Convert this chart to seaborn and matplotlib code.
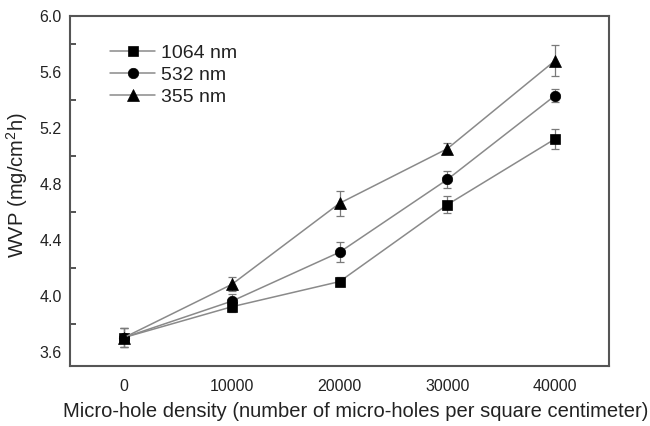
import numpy as np
import pandas as pd
import matplotlib
matplotlib.use("Agg")
import matplotlib.pyplot as plt
from matplotlib.ticker import MultipleLocator
import seaborn as sns

density = [0, 10000, 20000, 30000, 40000]
series_names = ["1064 nm", "532 nm", "355 nm"]
wvp_1064 = [3.70, 3.92, 4.10, 4.65, 5.12]
wvp_532 = [3.70, 3.96, 4.31, 4.83, 5.43]
wvp_355 = [3.70, 4.08, 4.66, 5.05, 5.68]
err_1064 = [0.07, 0.04, 0.03, 0.06, 0.07]
err_532 = [0.07, 0.05, 0.07, 0.06, 0.05]
err_355 = [0.07, 0.05, 0.09, 0.04, 0.11]
xticks = [0, 10000, 20000, 30000, 40000]
yticks = [3.6, 4.0, 4.4, 4.8, 5.2, 5.6, 6.0]

sns.set_theme(style="white")
plt.rcParams["font.family"] = ["Liberation Sans", "DejaVu Sans"]
plt.rcParams["mathtext.fontset"] = "custom"
plt.rcParams["mathtext.rm"] = "Liberation Sans"
plt.rcParams["mathtext.it"] = "Liberation Sans:italic"
plt.rcParams["mathtext.default"] = "regular"

values = [wvp_1064, wvp_532, wvp_355]
errors = [err_1064, err_532, err_355]
markers = ["s", "o", "^"]
msizes = [6.5, 7.5, 8]

frames = []
for name, v, e in zip(series_names, values, errors):
    frames.append(pd.DataFrame({"density": density, "wvp": v, "err": e, "series": name}))
df = pd.concat(frames, ignore_index=True)

fig = plt.figure(figsize=(6.5, 4.26), dpi=100)
ax = fig.add_axes([0.108, 0.142, 0.829, 0.821])

line_grey = "#8a8a8a"
for name, mk, ms in zip(series_names, markers, msizes):
    sub = df[df["series"] == name]
    ax.errorbar(sub["density"], sub["wvp"], yerr=sub["err"], fmt="none",
                ecolor="#7a7a7a", elinewidth=0.9, capsize=3, capthick=0.9, zorder=2)
    sns.lineplot(data=sub, x="density", y="wvp", ax=ax, color=line_grey,
                 linewidth=1.1, marker=mk, markersize=ms,
                 markerfacecolor="black", markeredgecolor="black",
                 markeredgewidth=0.5, label=name, zorder=3)

ax.set_xlim(-5000, 45000)
ax.set_ylim(3.5, 6.0)
ax.set_xticks(xticks)
ax.set_xticklabels([str(t) for t in xticks])
ax.set_yticks(yticks)
ax.set_yticklabels([f"{t:.1f}" for t in yticks])
ax.yaxis.set_minor_locator(MultipleLocator(0.2))

ax.tick_params(axis="both", which="major", direction="in", colors="#444444",
               labelcolor="#222222", labelsize=11.5, width=1.3)
ax.tick_params(axis="y", which="major", length=7, pad=6)
ax.tick_params(axis="y", which="minor", left=True, direction="in", length=4.5,
               width=1.3, colors="#444444")
ax.tick_params(axis="x", which="major", length=5, pad=10)
ax.tick_params(top=False, right=False)

for sp in ax.spines.values():
    sp.set_color("#555555")
    sp.set_linewidth(1.5)

ax.set_xlabel("Micro-hole density (number of micro-holes per square centimeter)",
              fontsize=14.5, color="#222222", labelpad=9)
ax.xaxis.set_label_coords(0.53, -0.105)
ax.set_ylabel("WVP (mg/cm$^{2}$h)", fontsize=14.5, color="#222222", labelpad=9)
ax.yaxis.set_label_coords(-0.075, 0.515)

leg = ax.legend(loc="upper left", bbox_to_anchor=(0.06, 0.94), frameon=False,
                fontsize=14, handlelength=2.3, handletextpad=0.3,
                labelspacing=0.22, borderaxespad=0.0)
for t in leg.get_texts():
    t.set_color("#222222")

fig.savefig("out.png", dpi=100)
